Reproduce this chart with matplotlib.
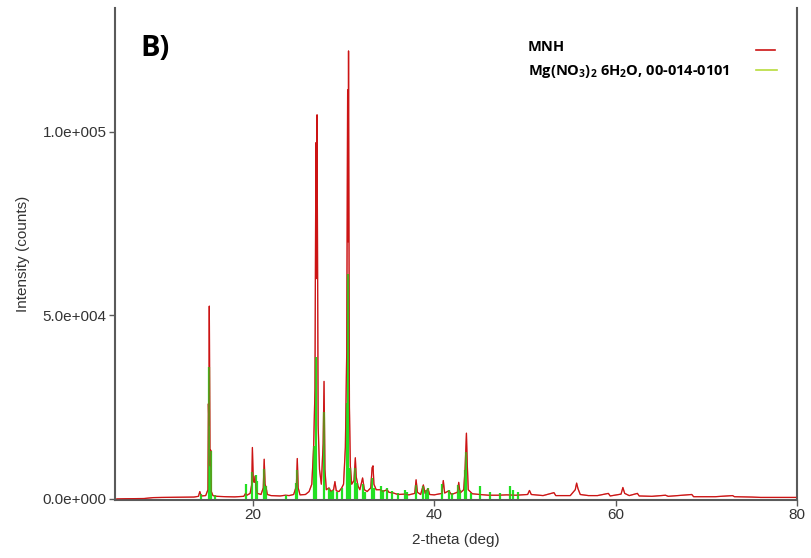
import matplotlib
matplotlib.use("Agg")
import matplotlib.pyplot as plt
from matplotlib.lines import Line2D

plt.rcParams['font.family'] = ['Liberation Sans', 'DejaVu Sans']

# Measured MNH pattern (2-theta in degrees, intensity in counts)
mnh_theta = [
    5.0, 6.0, 8.0, 9.0, 10.0, 12.0, 13.5, 14.0, 14.15, 14.3, 14.8, 15.05, 15.1, 15.15,
    15.2, 15.28, 15.35, 15.42, 15.6, 16.0, 17.0, 18.0, 19.0, 19.2, 19.35, 19.7, 19.88,
    19.95, 20.05, 20.15, 20.25, 20.35, 20.5, 20.9, 21.15, 21.25, 21.35, 21.45, 21.6, 22.0,
    23.0, 23.6, 24.0, 24.5, 24.8, 24.9, 25.0, 25.2, 25.8, 26.2, 26.5, 26.7, 26.85, 26.95,
    27.02, 27.08, 27.2, 27.35, 27.55, 27.75, 27.85, 27.95, 28.1, 28.4, 28.6, 28.9, 29.05,
    29.2, 29.5, 29.8, 30.0, 30.2, 30.35, 30.45, 30.5, 30.55, 30.65, 30.75, 30.9, 31.15,
    31.3, 31.4, 31.6, 31.8, 32.1, 32.3, 32.6, 33.0, 33.15, 33.25, 33.35, 33.6, 34.1, 34.3,
    34.8, 35.0, 35.5, 36.0, 36.8, 37.2, 37.85, 38.0, 38.15, 38.5, 38.8, 39.0, 39.3, 39.5,
    40.0, 40.85, 41.0, 41.15, 41.6, 41.9, 42.55, 42.7, 42.85, 43.25, 43.4, 43.55, 43.65, 43.75,
    44.2, 45.0, 46.0, 47.0, 48.0, 49.0, 50.3, 50.5, 50.7, 52.0, 53.2, 53.4, 55.0, 55.55,
    55.7, 55.85, 56.1, 57.0, 58.0, 59.2, 59.4, 60.6, 60.8, 61.0, 61.5, 62.4, 62.6, 64.0,
    65.5, 65.8, 68.4, 68.6, 71.0, 72.9, 73.1, 75.0, 76.0, 80.0,
]
mnh_counts = [
    0, 50, 100, 350, 400, 450, 500, 700, 2000, 800, 900, 2500, 25900, 20000,
    52500, 9000, 13300, 2000, 900, 700, 600, 550, 700, 1500, 1000, 1500, 4000,
    14000, 5000, 4500, 6200, 3000, 1500, 1200, 3000, 10800, 4000, 3200, 1200, 900,
    800, 1000, 900, 1200, 3500, 11000, 3000, 1100, 1200, 2000, 4000, 14000, 30000, 97000,
    60000, 104600, 20000, 8000, 4000, 15000, 32000, 8000, 2500, 3000, 2000, 2500, 4700,
    2200, 2000, 3000, 4000, 14000, 40000, 111400, 70000, 122000, 25000, 9000, 4000, 5000,
    11200, 6000, 3500, 2500, 5700, 2500, 2000, 3000, 8500, 9000, 4000, 2500, 2500, 2000,
    2500, 1800, 1600, 1200, 1300, 1100, 1500, 5200, 1800, 1200, 3800, 1500, 2800, 1200,
    1100, 1500, 5000, 1600, 2200, 1200, 1800, 4500, 1600, 2500, 8000, 17900, 9000, 2500,
    1400, 1200, 1000, 1000, 1100, 1000, 1200, 2300, 1200, 900, 1700, 900, 900, 2500,
    4300, 2800, 1200, 900, 900, 1500, 800, 1300, 3100, 1500, 900, 1500, 800, 700,
    1000, 700, 1200, 600, 600, 900, 600, 500, 400, 400,
]

# Reference card Mg(NO3)2 6H2O, PDF 00-014-0101 (stick positions and heights)
ref_theta = [
    14.3, 15.2, 15.35, 15.8, 19.2, 19.95, 20.3, 20.45, 21.25, 21.45, 23.6, 24.8, 24.9,
    26.7, 26.97, 27.85, 28.4, 28.6, 28.8, 29.3, 29.8, 30.42, 30.5, 30.7, 31.3, 31.5,
    32.1, 32.4, 33.15, 33.4, 34.1, 34.4, 34.8, 35.3, 36.0, 36.8, 37.0, 37.95, 38.8,
    39.1, 39.3, 40.9, 41.6, 42.0, 42.6, 42.8, 43.4, 43.55, 44.0, 45.1, 46.2, 47.3,
    48.3, 48.7, 49.2,
]
ref_counts = [
    1400, 36000, 13000, 1000, 4000, 7200, 6400, 5000, 8200, 3400, 1000, 4300, 7900,
    14300, 38700, 23700, 3000, 2200, 2500, 2000, 3000, 26000, 61300, 8400, 8400, 4400,
    4000, 2000, 5700, 3000, 3500, 2500, 3000, 2200, 1500, 2500, 1900, 3900, 3500,
    2500, 3000, 4000, 2500, 1500, 3800, 2500, 7900, 12900, 1500, 3600, 1800, 1500,
    3600, 2500, 1900,
]

x_ticks = [20, 40, 60, 80]
y_ticks = [0, 50000, 100000]
y_tick_labels = ["0.0e+000", "5.0e+004", "1.0e+005"]

red = "#cc1414"
green = "#22e022"
legend_green = "#b8dc3c"
spine_gray = "#5a5a5a"
text_gray = "#333333"

fig = plt.figure(figsize=(8.11, 5.58), dpi=100)
ax = fig.add_axes([115 / 811, 58 / 558, (797 - 115) / 811, (500 - 8) / 558])

ax.plot(mnh_theta, mnh_counts, color=red, lw=0.9, zorder=2)
ax.vlines(ref_theta, 0, ref_counts, color=green, lw=1.6, zorder=3)
# translucent red pass on top so overlapping columns blend towards olive
ax.plot(mnh_theta, mnh_counts, color=red, lw=0.9, alpha=0.45, zorder=4)

ax.set_xlim(4.8, 80)
ax.set_ylim(-300, 133700)
ax.set_xticks(x_ticks)
ax.set_yticks(y_ticks)
ax.set_yticklabels(y_tick_labels)
ax.tick_params(axis="both", direction="out", length=4, width=1, color=spine_gray,
               labelsize=11, labelcolor=text_gray, pad=2)

for side in ("left", "bottom", "right"):
    ax.spines[side].set_color(spine_gray)
    ax.spines[side].set_linewidth(1.5)
ax.spines["top"].set_visible(False)

ax.set_xlabel("2-theta (deg)", fontsize=11, color=text_gray, labelpad=8)
ax.set_ylabel("Intensity (counts)", fontsize=11, color=text_gray, labelpad=9)

fig.text(140 / 811, 1 - 48 / 558, "B)", fontsize=21, fontweight="bold",
         family=["Open Sans", "DejaVu Sans"], va="center", ha="left")

# Legend entries: label on the left, line sample on the right
fig.text(528 / 811, 1 - 47 / 558, "MNH", fontsize=10.5, fontweight="bold",
         family=["Open Sans", "DejaVu Sans"], va="center", ha="left")
fig.text(528 / 811, 1 - 72 / 558,
         r"Mg(NO$\mathregular{_3}$)$\mathregular{_2}$ 6H$\mathregular{_2}$O, 00-014-0101",
         fontsize=10.5, fontweight="bold", family=["Open Sans", "DejaVu Sans"],
         va="center", ha="left")
fig.add_artist(Line2D([756 / 811, 775 / 811], [1 - 50 / 558, 1 - 50 / 558],
                      color=red, lw=1.2, transform=fig.transFigure))
fig.add_artist(Line2D([756 / 811, 777 / 811], [1 - 70 / 558, 1 - 70 / 558],
                      color=legend_green, lw=1.2, transform=fig.transFigure))

fig.savefig("out.png", dpi=100)
